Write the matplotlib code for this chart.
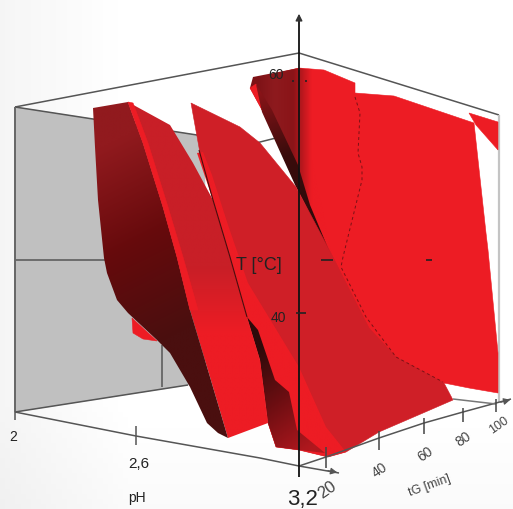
import numpy as np
import matplotlib
matplotlib.use("Agg")
import matplotlib.pyplot as plt
from matplotlib.colors import LinearSegmentedColormap
from matplotlib.patches import Polygon

back_wall = [(15, 107), (197, 135), (205, 170), (205, 382), (188, 385), (15, 412)]
box_top = [(15, 107), (299, 53), (499, 115)]
wall_top = [(15, 107), (93, 119), (197, 135), (256, 143), (276, 138)]
floor_left = [(15, 412), (188, 385)]
right_edge = [(499, 115), (499, 402)]
wall_grid_h = [(15, 260), (105, 260)]
wall_grid_v = [(162, 345), (162, 387)]

ph_axis = [(15, 412), (136, 436), (260, 458), (299, 466), (339, 473)]
tg_axis = [(299, 466), (326, 457), (379, 438), (424, 423), (463, 412), (496, 403), (511, 399)]
t_axis = [(299, 477), (299, 16)]
floor_back = [(453, 399), (496, 404)]

ph_ticks = [(136, 426, 445)]
tg_ticks = [(326, 447, 468), (379, 431, 450), (424, 418, 434), (463, 408, 422), (496, 399, 412)]

a_dark = [(93, 108), (128, 102), (143, 143), (163, 207), (177, 257), (190, 310), (210, 377),
          (228, 438), (218, 433), (207, 423), (190, 387), (170, 353), (157, 340), (128, 313),
          (117, 300), (107, 273), (104, 258), (98, 200), (95, 147)]
a_mid = [(128, 102), (170, 125), (193, 163), (213, 200), (230, 257), (247, 317), (260, 360),
         (268, 423), (228, 438), (210, 377), (190, 310), (177, 257), (163, 207), (143, 143)]
a_ridge = [(128, 102), (133, 103), (148, 143), (168, 207), (183, 257), (198, 310), (190, 310),
           (177, 257), (163, 207), (143, 143)]
a_piece = [(132, 318), (133, 333), (143, 339), (157, 341), (145, 330)]

c_main = [(256, 78), (299, 68), (324, 70), (355, 83), (355, 93), (394, 96), (474, 123),
          (486, 233), (488, 250), (498, 353), (498, 393), (469, 388), (444, 383),
          (396, 372), (355, 335), (325, 270), (301, 188)]
c_triangle = [(469, 113), (498, 122), (498, 150), (476, 125)]
c_seam = [(355, 97), (360, 113), (358, 153), (362, 167), (362, 180), (343, 257), (341, 267),
          (356, 297), (366, 317), (396, 357), (443, 382)]
wedge = [(250, 88), (253, 77), (299, 68), (312, 70), (312, 160), (333, 260), (300, 190), (296, 185), (262, 110)]
wedge_black = [(256, 84), (272, 110), (298, 165), (310, 205), (333, 260), (296, 187), (262, 112)]
wedge_tip = [(250, 88), (256, 84), (262, 110)]

b_main = [(191, 103), (240, 127), (260, 143), (296, 187), (333, 257), (343, 277), (369, 328),
          (396, 357), (444, 383), (453, 400), (423, 413), (379, 432), (346, 452), (328, 457),
          (299, 450), (276, 447), (268, 423), (260, 360), (247, 317), (230, 257), (213, 200),
          (200, 153)]
b_strip = [(197, 153), (203, 152), (212, 175), (228, 225), (248, 283), (299, 367), (326, 427),
           (346, 452), (328, 457), (299, 450), (276, 447), (268, 423), (260, 360), (247, 317),
           (230, 257), (213, 200)]
b_dark = [(247, 317), (258, 330), (275, 380), (289, 392), (297, 430), (325, 453), (299, 450),
          (276, 447), (268, 423), (260, 360)]

seam_left = [(199, 150), (213, 200), (230, 257), (247, 317)]
t_ticks = [(296, 306, 313), (321, 333, 260), (426, 432, 260), (292, 294, 81), (305, 307, 81)]

t_labels = [("60", 276, 75, 10), ("40", 278, 318, 10), ("T [°C]", 259, 265, 13)]
ph_labels = [("2", 13, 437, 10), ("2,6", 139, 464, 11), ("pH", 137, 498, 10), ("3,2", 303, 500, 16)]
tg_labels = [("20", 327, 490, 12), ("40", 380, 470, 10), ("60", 425, 454, 10), ("80", 463, 439, 10),
             ("100", 499, 426, 9), ("tG [min]", 430, 486, 9)]
tg_label_rot = [35, 35, 35, 35, 35, 20]

RED = "#ed1c24"
MID = "#cf1f27"

fig = plt.figure(figsize=(5.13, 5.09), dpi=100)
ax = fig.add_axes([0, 0, 1, 1])
ax.set_xlim(0, 513)
ax.set_ylim(509, 0)
ax.axis("off")


def fill(points, color, z):
    ax.add_patch(Polygon(points, closed=True, fc=color, ec=color, lw=0.4, zorder=z))


def shade(points, colors, start, end, z):
    # linear gradient between two image points, clipped to the outline
    pts = np.array(points, float)
    x0, y0 = pts.min(axis=0)
    x1, y1 = pts.max(axis=0)
    xx, yy = np.meshgrid(np.linspace(x0, x1, 200), np.linspace(y0, y1, 200))
    dx, dy = end[0] - start[0], end[1] - start[1]
    t = ((xx - start[0]) * dx + (yy - start[1]) * dy) / (dx * dx + dy * dy)
    cmap = LinearSegmentedColormap.from_list("s", colors)
    im = ax.imshow(np.clip(t, 0, 1), cmap=cmap, vmin=0, vmax=1, extent=(x0, x1, y1, y0),
                   aspect="auto", zorder=z, interpolation="bilinear")
    patch = Polygon(points, closed=True, fc="none", ec="none", transform=ax.transData)
    ax.add_patch(patch)
    im.set_clip_path(patch)


def line(points, color="#555555", lw=1.1, z=1.5, **kw):
    xs, ys = zip(*points)
    ax.plot(xs, ys, color=color, lw=lw, zorder=z, solid_capstyle="butt", **kw)


# faint grey vignette of the page
yy, xx = np.mgrid[0:1:100j, 0:1:100j]
ax.imshow(np.clip(1 - xx * 4, 0, 1) * 0.04 + np.clip(yy - 0.8, 0, 1) * 0.1, cmap="gray_r", vmin=0, vmax=1,
          extent=(0, 513, 509, 0), aspect="auto", zorder=0)
ax.set_xlim(0, 513)
ax.set_ylim(509, 0)

fill(back_wall, "#c0c0c0", 1)
line(box_top)
line(wall_top)
line(floor_left)
line(wall_grid_h)
line(wall_grid_v)
line(right_edge, color="#c4c4c4", lw=1.6)
line([(15, 107), (15, 412)], color="#666666", lw=1.4)

fill(c_main, RED, 2)
fill(c_triangle, RED, 2)
shade(wedge, ["#7d1216", "#8e1a1e", "#8a1418", RED], (256, 0), (312, 0), 2.2)
fill(wedge_tip, RED, 2.25)
shade(wedge_black, ["#8a1418", "#3a0c0c", "#2e0a0a"], (262, 90), (310, 220), 2.3)

fill(a_piece, RED, 2.5)

fill(b_main, MID, 3)
shade(b_strip, [RED, RED], (200, 0), (300, 0), 3.1)
shade(b_dark, ["#2e0a0a", "#6e0e12", "#b0181e"], (258, 350), (322, 440), 3.2)
line(c_seam, color="#7a1216", lw=0.7, z=3.3, ls=(0, (3, 3)))

shade(a_mid, ["#c81f27", "#c81f27", RED, RED], (0, 200), (0, 400), 4)
shade(a_dark, ["#911a1e", "#660a0c", "#4a0f0f"], (95, 150), (185, 330), 4.1)
fill(a_ridge, RED, 4.2)
line(seam_left, color="#4a0d0d", lw=0.8, z=4.3)

line(ph_axis, z=5)
line(tg_axis, z=5)
line(floor_back, color="#777777", z=5)
ax.annotate("", xy=(340, 473), xytext=(325, 470), zorder=5,
            arrowprops=dict(arrowstyle="-|>", color="#555555", lw=0.8))
ax.annotate("", xy=(513, 399), xytext=(498, 403), zorder=5,
            arrowprops=dict(arrowstyle="-|>", color="#555555", lw=0.8))
for x, y0, y1 in ph_ticks:
    line([(x, y0), (x, y1)], z=5)
for x, y0, y1 in tg_ticks:
    line([(x, y0), (x, y1)], color="#444444", z=5)
line([(15, 412), (15, 420)], z=5)

line(t_axis, color="#111111", lw=1.3, z=6)
ax.annotate("", xy=(299, 11), xytext=(299, 24), zorder=6,
            arrowprops=dict(arrowstyle="-|>", color="#333333", lw=1))
for x0, x1, y in t_ticks:
    line([(x0, y), (x1, y)], color="#222222", lw=1.2, z=6)

for text, x, y, size in t_labels + ph_labels:
    ax.text(x, y, text, fontsize=size, ha="center", va="center", color="#222222",
            family="Liberation Sans", zorder=7)
for (text, x, y, size), rot in zip(tg_labels, tg_label_rot):
    ax.text(x, y, text, fontsize=size, ha="center", va="center", color="#444444", rotation=rot,
            family="Liberation Sans", zorder=7)

fig.savefig("out.png", dpi=100)
